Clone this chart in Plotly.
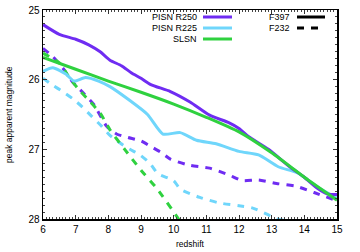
import plotly.graph_objects as go

# ---- data ----
r250_f397_z = [6.0, 6.5, 7.0, 7.4, 7.75, 8.05, 8.4, 8.7, 9.0, 9.3, 9.9, 10.5, 11.1, 11.7, 12.0, 12.3, 12.9, 13.55, 14.0, 14.4, 14.7, 15.0]
r250_f397_m = [25.21, 25.35, 25.42, 25.50, 25.60, 25.72, 25.80, 25.90, 25.98, 26.07, 26.17, 26.32, 26.51, 26.62, 26.70, 26.82, 27.00, 27.25, 27.40, 27.56, 27.64, 27.65]

r225_f397_z = [6.0, 6.3, 6.7, 6.95, 7.3, 7.7, 8.05, 8.66, 9.2, 9.67, 10.2, 10.7, 11.3, 12.0, 12.6, 13.2, 13.8, 14.4, 15.0]
r225_f397_m = [25.88, 25.83, 25.92, 26.02, 25.97, 26.02, 26.10, 26.30, 26.50, 26.78, 26.76, 26.87, 26.92, 27.03, 27.08, 27.25, 27.34, 27.54, 27.70]

slsn_f397_z = [6.0, 7.0, 8.0, 9.0, 10.0, 11.0, 12.0, 13.0, 14.0, 15.0]
slsn_f397_m = [25.68, 25.85, 26.02, 26.18, 26.35, 26.54, 26.75, 27.05, 27.40, 27.73]

r250_f232_z = [6.0, 6.3, 6.6, 6.9, 7.25, 7.56, 7.95, 8.25, 8.6, 9.0, 9.3, 9.6, 9.9, 10.5, 11.1, 11.7, 12.1, 12.6, 13.15, 13.75, 14.3, 15.0]
r250_f232_m = [25.55, 25.67, 25.83, 26.03, 26.20, 26.36, 26.67, 26.78, 26.83, 26.88, 26.96, 27.04, 27.14, 27.23, 27.27, 27.37, 27.45, 27.44, 27.49, 27.53, 27.62, 27.74]

r225_f232_z = [6.0, 6.3, 6.6, 6.9, 7.2, 7.5, 7.8, 8.05, 8.36, 8.66, 8.97, 9.27, 9.52, 10.0, 10.2, 10.8, 11.4, 12.0, 12.4, 12.85, 13.15, 13.8]
r225_f232_m = [25.98, 26.08, 26.17, 26.27, 26.39, 26.53, 26.67, 26.80, 26.91, 27.00, 27.08, 27.20, 27.35, 27.45, 27.57, 27.69, 27.77, 27.81, 27.84, 27.93, 28.00, 28.04]

slsn_f232_z = [6.0, 6.5, 6.85, 7.15, 7.45, 7.75, 8.05, 8.5, 9.0, 9.5, 10.15, 10.5]
slsn_f232_m = [25.62, 25.76, 26.00, 26.17, 26.32, 26.48, 26.72, 27.00, 27.30, 27.57, 28.00, 28.25]

x_ticks = [6, 7, 8, 9, 10, 11, 12, 13, 14, 15]
y_ticks = [25, 26, 27, 28]

PURPLE = "#6f2cf2"
CYAN = "#6fd6fb"
GREEN = "#2fd13f"
DASH = "7px,7px"

fig = go.Figure()
for z, m, c, d in [
    (r250_f232_z, r250_f232_m, PURPLE, DASH),
    (r225_f232_z, r225_f232_m, CYAN, DASH),
    (slsn_f232_z, slsn_f232_m, GREEN, DASH),
    (r225_f397_z, r225_f397_m, CYAN, "solid"),
    (r250_f397_z, r250_f397_m, PURPLE, "solid"),
    (slsn_f397_z, slsn_f397_m, GREEN, "solid"),
]:
    fig.add_trace(go.Scatter(x=z, y=m, mode="lines", showlegend=False, hoverinfo="skip",
                             line=dict(color=c, width=3, dash=d, shape="spline", smoothing=0.6)))

font = dict(family="Liberation Sans, Arial, sans-serif", color="black")

L, R, T, B = 43, 337, 10, 219
def py(p):
    return 1 - (p - T) / (B - T)
def px(p):
    return (p - L) / (R - L)

shapes = []
annotations = []
leg_names = ["PISN R250", "PISN R225", "SLSN"]
leg_cols = [PURPLE, CYAN, GREEN]
leg_y = [17, 28, 39]
for name, col, yy in zip(leg_names, leg_cols, leg_y):
    annotations.append(dict(x=px(199), y=py(yy), xref="paper", yref="paper", text=name,
                            showarrow=False, xanchor="right", yanchor="middle",
                            font=dict(size=9, **font)))
    shapes.append(dict(type="line", xref="paper", yref="paper", x0=px(203), x1=px(232),
                       y0=py(yy), y1=py(yy), line=dict(color=col, width=3)))
for name, d, yy in [("F397", "solid", 17), ("F232", DASH, 28)]:
    annotations.append(dict(x=px(292), y=py(yy), xref="paper", yref="paper", text=name,
                            showarrow=False, xanchor="right", yanchor="middle",
                            font=dict(size=9, **font)))
    shapes.append(dict(type="line", xref="paper", yref="paper", x0=px(297), x1=px(325),
                       y0=py(yy), y1=py(yy), line=dict(color="black", width=3, dash=d)))

# axis titles
annotations.append(dict(x=px(190), y=py(244), xref="paper", yref="paper", text="redshift",
                        showarrow=False, xanchor="center", yanchor="middle",
                        font=dict(size=8.5, **font)))
annotations.append(dict(x=px(9), y=py(115), xref="paper", yref="paper", text="peak apparent magnitude",
                        showarrow=False, xanchor="center", yanchor="middle", textangle=-90,
                        font=dict(size=8.5, **font)))

axis_common = dict(ticks="inside", ticklen=4, tickcolor="#333", mirror="ticks",
                   showline=True, linecolor="black", linewidth=1.5, showgrid=False,
                   zeroline=False, automargin=False,
                   minor=dict(ticks="inside", ticklen=2, dtick=0.1, tickcolor="#444", showgrid=False),
                   tickfont=dict(size=10, **font))

fig.update_layout(
    width=360, height=252,
    margin=dict(l=L, r=360 - R, t=T, b=252 - B),
    paper_bgcolor="white", plot_bgcolor="white",
    font=font, hovermode=False,
    annotations=annotations, shapes=shapes,
    xaxis=dict(range=[6, 15], tickvals=x_ticks, ticktext=[str(v) for v in x_ticks], **axis_common),
    yaxis=dict(range=[28, 25], tickvals=y_ticks, ticktext=[str(v) for v in y_ticks], **axis_common),
)

fig.write_html("out.html", config={"displayModeBar": False, "staticPlot": True},
               post_script="document.body.style.margin='0';document.body.style.overflow='hidden';")
